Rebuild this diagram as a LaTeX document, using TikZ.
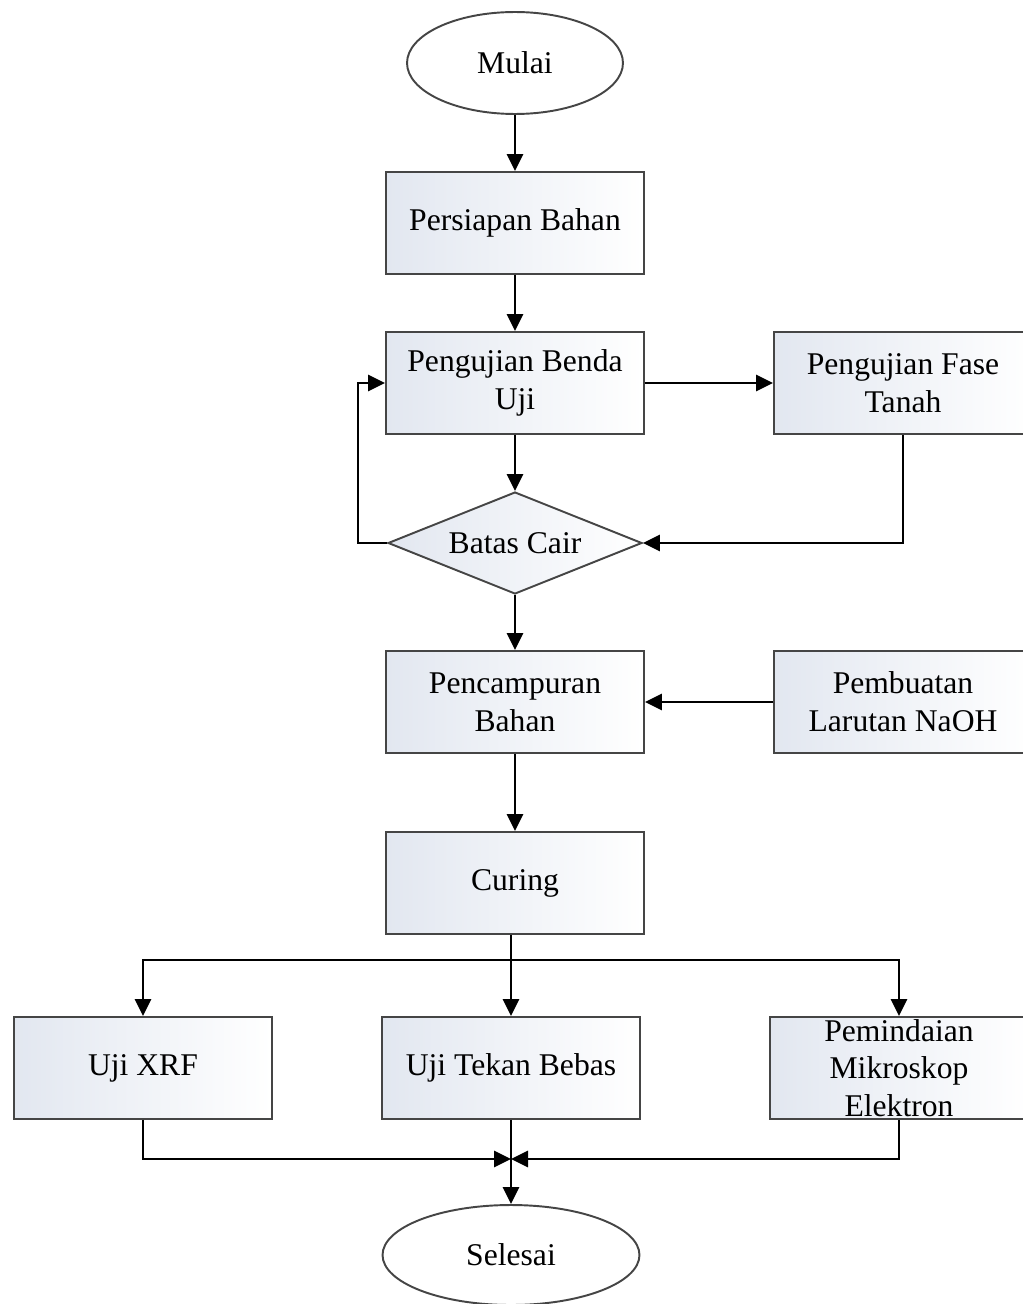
\documentclass[tikz,border=0pt]{standalone}
\usepackage{fontspec}
\setmainfont{Liberation Serif}
\usetikzlibrary{shapes.geometric,arrows.meta}
\definecolor{boxblue}{HTML}{E2E7F0}
\definecolor{edge}{HTML}{454545}
\tikzset{
  txt/.style={font=\fontsize{18}{21.5}\selectfont, align=center, text=black},
  procbox/.style={txt, rectangle, draw=edge, line width=1.1pt, left color=boxblue, right color=white,
    minimum width=5.16cm, minimum height=2.04cm, inner sep=2pt},
  termnode/.style={txt, ellipse, draw=edge, line width=1.1pt, fill=white, inner sep=0pt},
  decnode/.style={txt, diamond, aspect=2.5, draw=edge, line width=1.1pt, left color=boxblue, right color=white,
    minimum width=5.08cm, minimum height=2.04cm, inner sep=0pt},
  conn/.style={draw=black, line width=1.6pt},
  arr/.style={conn, -{Triangle[length=0.34cm,width=0.32cm]}}
}
\begin{document}
\begin{tikzpicture}[x=0.02cm,y=-0.02cm]
\useasboundingbox (0,0) rectangle (1022,1304);
\node[termnode, minimum width=4.32cm, minimum height=2.04cm] (mulai) at (515,63) {Mulai};
\node[procbox] (persiapan) at (515,223) {Persiapan Bahan};
\node[procbox] (uji) at (515,383) {Pengujian Benda\\Uji};
\node[procbox] (fase) at (903,383) {Pengujian Fase\\Tanah};
\node[decnode] (batas) at (515,543) {Batas Cair};
\node[procbox] (campur) at (515,702) {Pencampuran\\Bahan};
\node[procbox] (naoh) at (903,702) {Pembuatan\\Larutan NaOH};
\node[procbox] (curing) at (515,883) {Curing};
\node[procbox] (xrf) at (143,1068) {Uji XRF};
\node[procbox] (tekan) at (511,1068) {Uji Tekan Bebas};
\node[procbox] (pem) at (899,1068) {};
\node[txt] (pemtext) at (pem.center) {Pemindaian\\Mikroskop\\Elektron};
\node[termnode, minimum width=5.14cm, minimum height=2.0cm] (selesai) at (511,1255) {Selesai};

\coordinate (split) at (511,960);
\coordinate (join) at (511,1159);
\coordinate (loopl) at (358,543);

\draw[arr] (mulai) -- (persiapan);
\draw[arr] (persiapan) -- (uji);
\draw[arr] (uji) -- (fase);
\draw[arr] (uji) -- (batas);
\draw[arr] (batas.west) -- (loopl) |- (uji.west);
\draw[arr] (fase.south) |- (batas.east);
\draw[arr] (batas) -- (campur);
\draw[arr] (naoh) -- (campur);
\draw[arr] (campur) -- (curing);
\draw[arr] (curing.south -| tekan.north) -- (tekan.north);
\draw[arr] (split) -| (xrf.north);
\draw[arr] (split) -| (pem.north);
\draw[arr] (xrf.south) |- (join);
\draw[arr] (pem.south) |- (join);
\draw[arr] (tekan.south) -- (selesai.north);
\end{tikzpicture}
\end{document}
